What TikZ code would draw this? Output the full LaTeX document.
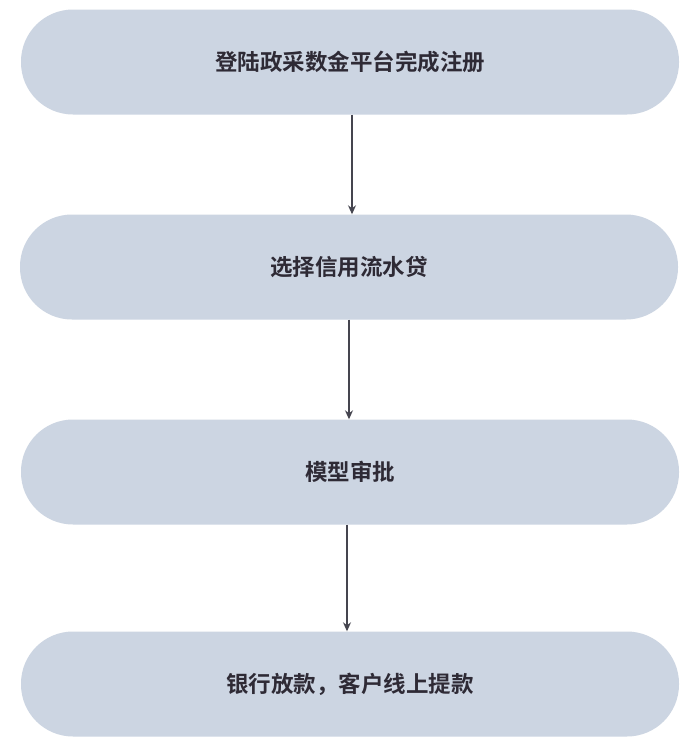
\documentclass[tikz,border=0pt]{standalone}
\usepackage{fontspec}
\newfontfamily\cjk{Noto Sans CJK SC}[BoldFont={Noto Sans CJK SC Bold}]
\usetikzlibrary{arrows.meta}
\begin{document}
\begin{tikzpicture}[x=1pt,y=-1pt,
  stepbox/.style={draw=none,fill=boxfill,rounded corners=52pt,minimum width=658pt,minimum height=105pt,inner sep=0pt,font=\cjk\bfseries\fontsize{22.5}{26}\selectfont,text=textcol},
  conn/.style={draw=arrowcol,line width=1.1pt,-{Stealth[length=9pt,width=8pt]}}]
\definecolor{boxfill}{HTML}{CCD5E2}
\definecolor{textcol}{HTML}{2E2A35}
\definecolor{arrowcol}{HTML}{45454F}
\useasboundingbox[fill=white] (0,0) rectangle (688,737);
\node[stepbox] (s1) at (350,62) {登陆政采数金平台完成注册};
\node[stepbox] (s2) at (349,267) {选择信用流水贷};
\node[stepbox] (s3) at (350,472) {模型审批};
\node[stepbox] (s4) at (350,684) {银行放款，客户线上提款};
\draw[conn] (s1.south -| 352,0) -- (s2.north -| 352,0);
\draw[conn] (s2.south -| 349,0) -- (s3.north -| 349,0);
\draw[conn] (s3.south -| 347,0) -- (s4.north -| 347,0);
\end{tikzpicture}
\end{document}
